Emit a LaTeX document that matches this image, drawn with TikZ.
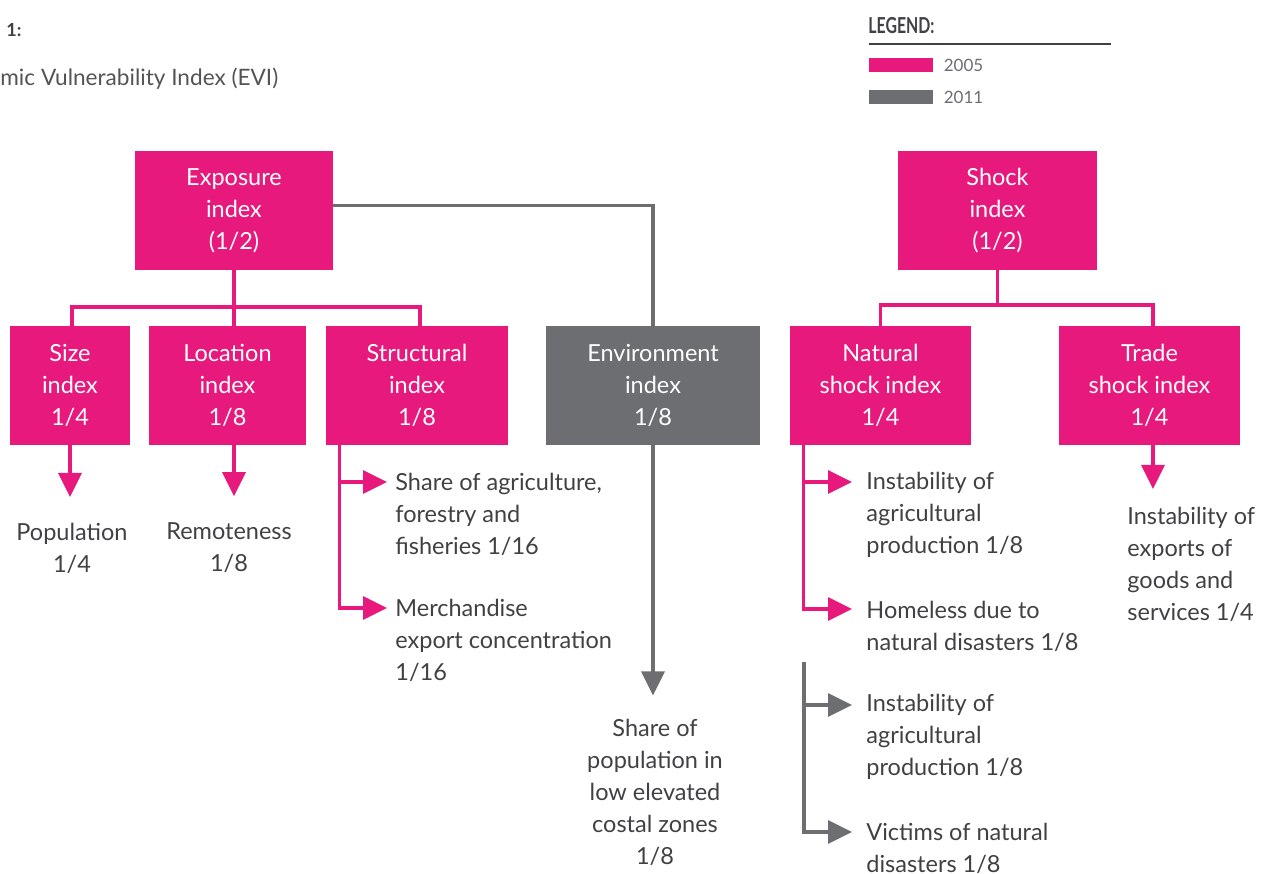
\documentclass[tikz,border=0pt]{standalone}
\usepackage{fontspec}
\setmainfont{Lato}
\usepackage{tikz}
\usetikzlibrary{arrows.meta,positioning}
\definecolor{evipink}{RGB}{232,25,125}
\definecolor{evigray}{RGB}{109,110,113}
\definecolor{evitext}{RGB}{65,64,66}
\newcommand{\evifont}{\fontsize{11.75}{16}\selectfont}

\begin{document}
\begin{tikzpicture}[x=0.5pt, y=-0.5pt, >=Triangle,
    idxbox/.style={fill=evipink, text=white, align=center, inner sep=0pt,
      minimum height=59.5pt, font=\evifont},
    newbox/.style={idxbox, fill=evigray},
    desc/.style={text=evitext, align=left, inner sep=0pt, font=\evifont},
    pinkline/.style={draw=evipink, line width=1.6pt},
    grayline/.style={draw=evigray, line width=1.6pt},
    pinkarrow/.style={pinkline, -{Triangle[length=12pt,width=11.5pt]}},
    grayarrow/.style={grayline, -{Triangle[length=12pt,width=11.5pt]}},
    legendtext/.style={text=evigray, inner sep=0pt, font=\fontsize{8.5}{10}\selectfont}]
  \useasboundingbox (0,0) rectangle (1268,873);

  % Title (cropped)
  \node[anchor=base west, inner sep=0pt, text=evitext, font=\fontsize{9}{10}\selectfont\bfseries] (figno) at (6,36) {1:};
  \node[anchor=west, inner sep=0pt, text=evitext!90, font=\fontsize{11.3}{12}\selectfont] (title) at (0,79) {mic Vulnerability Index (EVI)};

  % Legend
  \node[anchor=base west, inner sep=0pt, text=evitext, font=\fontsize{11}{12}\selectfont\bfseries] (legendtitle) at (868,33) {\scalebox{0.72}[1]{LEGEND:}};
  \draw[evitext, line width=0.8pt] (869,44) -- (1111,44);
  \node[fill=evipink, minimum width=32pt, minimum height=7pt, inner sep=0pt] (key2005) at (901,65) {};
  \node[legendtext, right=5pt of key2005] (lbl2005) {2005};
  \node[fill=evigray, minimum width=32pt, minimum height=7pt, inner sep=0pt] (key2011) at (901,97) {};
  \node[legendtext, right=5pt of key2011] (lbl2011) {2011};

  % Index boxes
  \node[idxbox, minimum width=99pt] (exposure) at (234,210.5) {Exposure\\index\\(1/2)};
  \node[idxbox, minimum width=99.5pt] (shock) at (997.5,210.5) {Shock\\index\\(1/2)};
  \node[idxbox, minimum width=60pt] (size) at (70,385.5) {Size\\index\\1/4};
  \node[idxbox, minimum width=78.5pt] (location) at (227.5,385.5) {Location\\index\\1/8};
  \node[idxbox, minimum width=91pt] (structural) at (417,385.5) {Structural\\index\\1/8};
  \node[newbox, minimum width=107pt] (environment) at (653,385.5) {Environment\\index\\1/8};
  \node[idxbox, minimum width=90.5pt] (natshock) at (880.5,385.5) {Natural\\shock index\\1/4};
  \node[idxbox, minimum width=90.5pt] (tradeshock) at (1149.5,385.5) {Trade\\shock index\\1/4};

  % Components
  \node[desc, align=center] (population) at (72,548.5) {Population\\1/4};
  \node[desc, align=center] (remoteness) at (229,547.5) {Remoteness\\1/8};
  \node[desc, anchor=west] (agri) at (395,514) {Share of agriculture,\\forestry and\\fisheries 1/16};
  \node[desc, anchor=west] (merch) at (395,640) {Merchandise\\export concentration\\1/16};
  \node[desc, align=center] (coastal) at (655,792) {Share of\\population in\\low elevated\\costal zones\\1/8};
  \node[desc, anchor=west] (instagri) at (866,515) {Instability of\\agricultural\\production 1/8};
  \node[desc, anchor=west] (homeless) at (866,626) {Homeless due to\\natural disasters 1/8};
  \node[desc, anchor=west] (instagrinew) at (866,737) {Instability of\\agricultural\\production 1/8};
  \node[desc, anchor=west] (victims) at (866,848) {Victims of natural\\disasters 1/8};
  \node[desc, anchor=west] (exports) at (1127,564.5) {Instability of\\exports of\\goods and\\services 1/4};

  % Joins and arrow tips
  \coordinate (expjoin) at (234,307);
  \coordinate (shockjoin) at (997.5,305);
  \coordinate (agritip) at (387,482);
  \coordinate (merchtip) at (387,608);
  \coordinate (instagritip) at (852,482);
  \coordinate (homelesstip) at (852,609);
  \coordinate (oldbar) at (804,662);
  \coordinate (instagrinewtip) at (852,705);
  \coordinate (victimstip) at (852,832);

  % Exposure tree
  \draw[pinkline] (exposure.south) -- (expjoin) -| ([xshift=1pt]size.north);
  \draw[pinkline] (expjoin) -| ([xshift=1.5pt]structural.north);
  \draw[pinkline] (expjoin) -- (expjoin |- location.north);
  \draw[grayline] ([yshift=2.5pt]exposure.east) -| (environment.north);

  % Shock tree
  \draw[pinkline] (shock.south) -- (shockjoin) -| (natshock.north);
  \draw[pinkline] (shockjoin) -| ([xshift=1.75pt]tradeshock.north);

  % Arrows to components
  \draw[pinkarrow, shorten >=13pt] (size.south) -- (size.south |- population.north);
  \draw[pinkarrow, shorten >=13pt] (expjoin |- location.south) -- (expjoin |- remoteness.north);
  \draw[pinkarrow] ([xshift=7pt]structural.south west) |- (agritip);
  \draw[pinkarrow] ([xshift=7pt]structural.south west) |- (merchtip);
  \draw[grayarrow, shorten >=11.5pt] (environment.south) -- (environment.south |- coastal.north);
  \draw[pinkarrow] ([xshift=7pt]natshock.south west) |- (instagritip);
  \draw[pinkarrow] ([xshift=7pt]natshock.south west) |- (homelesstip);
  \draw[grayarrow] (oldbar) |- (instagrinewtip);
  \draw[grayarrow] (oldbar) |- (victimstip);
  \draw[pinkarrow, shorten >=9pt] ([xshift=1.75pt]tradeshock.south) -- ([xshift=1.75pt]tradeshock.south |- exports.north);
\end{tikzpicture}
\end{document}
